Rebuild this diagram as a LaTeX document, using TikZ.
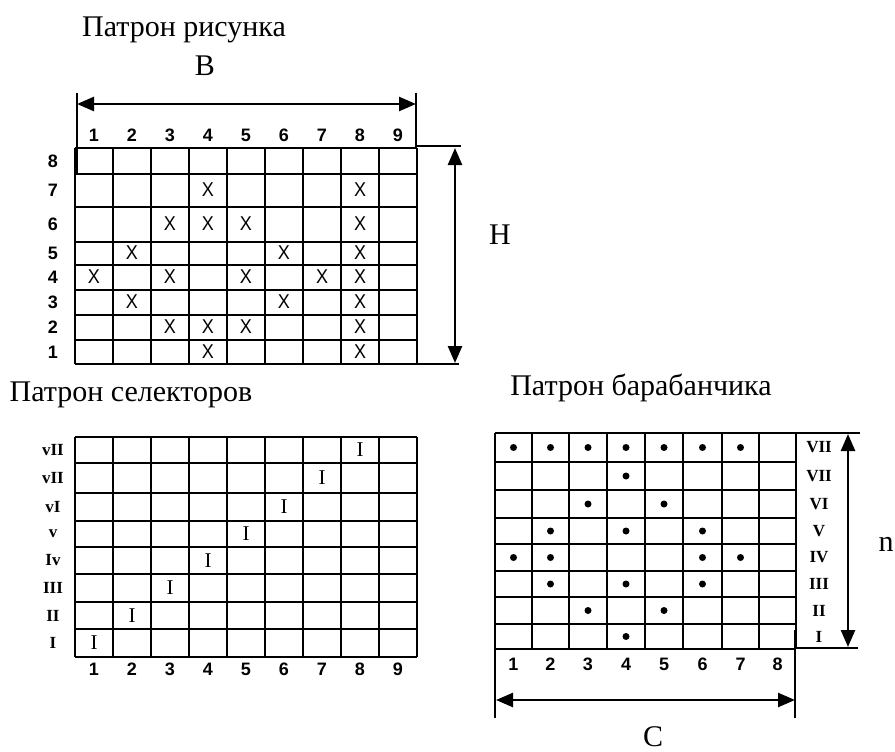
\documentclass[tikz,border=0pt]{standalone}
\usepackage{fontspec}
\setmainfont{Liberation Serif}
\newfontfamily\arialfont{Liberation Sans}
\usetikzlibrary{arrows.meta}
\begin{document}
\begin{tikzpicture}[x=1pt,y=-1pt,
  gridline/.style={line width=1.9pt},
  dimline/.style={line width=2.5pt,{Triangle[length=17pt,width=14pt]}-{Triangle[length=17pt,width=14pt]}},
  extline/.style={line width=1.7pt},
  titletext/.style={font=\fontsize{30}{34}\selectfont, inner sep=0pt},
  numtext/.style={font=\arialfont\bfseries\fontsize{18}{20}\selectfont, inner sep=0pt},
  xtext/.style={font=\arialfont\fontsize{20}{22}\selectfont, inner sep=0pt, xscale=0.9},
  romtext/.style={font=\bfseries\fontsize{17}{18}\selectfont, inner sep=0pt},
  itext/.style={font=\fontsize{21}{22}\selectfont, inner sep=0pt},
  dotmark/.style={circle, fill, inner sep=0pt, minimum size=7pt},
]
\useasboundingbox[fill=white] (0,0) rectangle (895,752);

% ---------- Pattern of drawing ----------
\node[titletext] (t1) at (184,30) {Патрон рисунка};
\node[titletext] (lb) at (205,66) {B};
\foreach \i in {0,...,9} \draw[gridline] ({75+38*\i},148) -- ({75+38*\i},364);
\foreach \y in {148,174,207,242,265,290,315,340,364} \draw[gridline] (75,\y) -- (417,\y);
\foreach \i in {1,...,9} \node[numtext] (tc\i) at ({56+38*\i},135) {\i};
\foreach \r/\y in {8/161,7/190,6/224,5/253,4/277,3/302,2/327,1/352}
  \node[numtext] (tr\r) at (53,\y) {\r};
\foreach \c/\y in {4/190,8/190,3/224,4/224,5/224,8/224,2/253,6/253,8/253,
  1/277,3/277,5/277,7/277,8/277,2/302,6/302,8/302,3/327,4/327,5/327,8/327,4/352,8/352}
  \node[xtext] (xm\c-\y) at ({56+38*\c},\y) {X};
\coordinate (bl) at (77,104);
\coordinate (br) at (416,104);
\draw[dimline] (bl) -- (br);
\draw[extline] (77,93) -- (77,175);
\draw[extline] (416,93) -- (416,148);
\coordinate (ht) at (455,148);
\coordinate (hb) at (455,363);
\draw[dimline] (ht) -- (hb);
\draw[extline] (417,146) -- (461,146);
\draw[extline] (417,364) -- (459,364);
\node[titletext] (lh) at (500,235) {H};

% ---------- Pattern of selectors ----------
\node[titletext] (t2) at (131,395) {Патрон селекторов};
\foreach \i in {0,...,9} \draw[gridline] ({75+38*\i},437) -- ({75+38*\i},657);
\foreach \y in {437,463,493,521,547,574,602,629,657} \draw[gridline] (75,\y) -- (417,\y);
\foreach \i in {1,...,9} \node[numtext] (sc\i) at ({56+38*\i},669) {\i};
\foreach \n/\t/\y/\c in {a/vII/450/8,b/vII/478/7,c/vI/507/6,d/v/534/5,e/Iv/560.5/4,f/III/588/3,g/II/615.5/2,h/I/643/1}{
  \node[romtext] (sr\n) at (53,\y) {\t};
  \node[itext] (si\n) at ({56+38*\c},\y) {I};
}

% ---------- Pattern of drum ----------
\node[titletext] (t3) at (641,388) {Патрон барабанчика};
\foreach \x in {495,532,569,607,645,683,722,759,796} \draw[gridline] (\x,433) -- (\x,649);
\foreach \y in {433,462,490,518,544,571,597,624,649} \draw[gridline] (495,\y) -- (796,\y);
\foreach \c/\x in {1/513.5,2/550.5,3/588,4/626,5/664,6/702.5,7/740.5,8/777.5}
  \node[numtext] (dc\c) at (\x,664) {\c};
\foreach \n/\t/\y in {a/VII/447.5,b/VII/476,c/VI/504,d/V/531,e/IV/557.5,f/III/584,g/II/610.5,h/I/636.5}
  \node[romtext] (dr\n) at (819,\y) {\t};
\foreach \x/\y in {513.5/447.5,550.5/447.5,588/447.5,626/447.5,664/447.5,702.5/447.5,740.5/447.5,
  626/476,588/504,664/504,550.5/531,626/531,702.5/531,
  513.5/557.5,550.5/557.5,702.5/557.5,740.5/557.5,550.5/584,626/584,702.5/584,
  588/610.5,664/610.5,626/636.5}
  \node[dotmark] (dd\x-\y) at (\x,\y) {};
\coordinate (nt) at (848,434);
\coordinate (nb) at (848,647);
\draw[dimline] (nt) -- (nb);
\draw[extline] (796,433) -- (860,433);
\draw[extline] (796,648) -- (858,648);
\node[titletext] (ln) at (886,544) {n};
\coordinate (cl) at (496,700);
\coordinate (cr) at (795,700);
\draw[dimline] (cl) -- (cr);
\draw[extline] (495,649) -- (495,718);
\draw[extline] (795,630) -- (795,718);
\node[titletext] (lc) at (653,737) {C};
\end{tikzpicture}
\end{document}
